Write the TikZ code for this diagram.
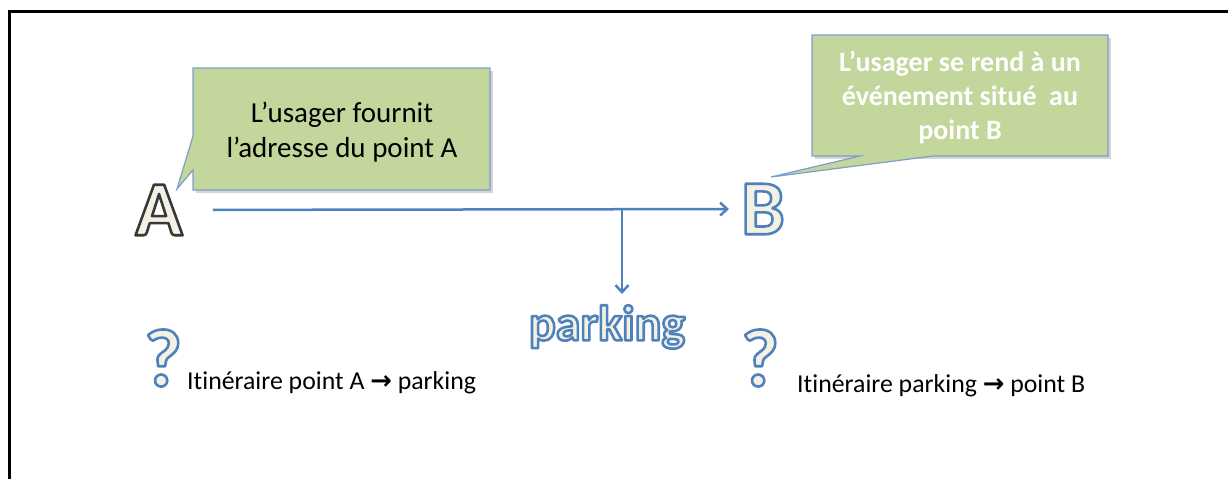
\documentclass[tikz,border=0pt]{standalone}
\usepackage{fontspec}
\setmainfont{Carlito}[Ligatures=NoCommon]
\newfontfamily\symfont{DejaVu Sans}
\usetikzlibrary{arrows.meta}
\definecolor{cgreen}{HTML}{C3D69B}
\definecolor{cborder}{HTML}{7BA0CD}
\definecolor{cblue}{HTML}{4F81BD}
\definecolor{cream}{HTML}{F3F1E4}
\definecolor{cshadow}{HTML}{D4D4D4}
% outlined text: #1 fill colour, #2 stroke rgb, #3 stroke width, #4 text
\newcommand\outl[4]{{\color{#1}\special{pdf:literal direct #2 RG #3 w 1 j 2 Tr}#4\special{pdf:literal direct 0 Tr}}}
\newcommand\bluel[1]{\outl{cream}{0.31 0.51 0.74}{2.6}{#1}}
\newcommand\greyl[1]{\outl{cream}{0.22 0.22 0.22}{2.6}{#1}}
\begin{document}
\begin{tikzpicture}[x=1pt,y=-1pt,
  callout/.style={fill=cgreen, draw=cborder, line width=1.2pt},
  calloutshadow/.style={fill=cshadow},
  flow/.style={draw=cblue, line width=2.5pt, -{Straight Barb[length=7pt,width=13pt,line width=2.5pt]}},
  frame/.style={draw=black, line width=3pt},
  bigletter/.style={inner sep=0pt, font=\fontsize{78}{90}\selectfont\bfseries},
  qmark/.style={inner sep=0pt, font=\fontsize{82}{90}\selectfont\bfseries},
  bubbletext/.style={align=center, inner sep=0pt, font=\fontsize{29}{35}\selectfont},
  routetext/.style={inner sep=0pt, anchor=base west, font=\fontsize{25.8}{30}\selectfont}
]
\useasboundingbox (0,0) rectangle (1228,479);
\fill[white] (0,0) rectangle (1228,479);
% frame
\draw[frame] (1228,11) -- (9,11) -- (9,479);
% callout shadows
\path[calloutshadow] (195.5,70.5) -- (492.5,70.5) -- (492.5,192.5) -- (195.5,192.5) -- cycle;
\path[calloutshadow] (814.5,37.5) -- (1110.5,37.5) -- (1110.5,158.5) -- (814.5,158.5) -- cycle;
% callouts
\path[callout] (193,68) -- (490,68) -- (490,190) -- (193,190) -- (193,170) -- (177,189) -- (193,136) -- cycle;
\path[callout] (812,35) -- (1108,35) -- (1108,156) -- (933,156) -- (771,177) -- (860,156) -- (812,156) -- cycle;
\node[bubbletext] (ta) at (342,132) {L’usager fournit\\l’adresse du point A};
\node[bubbletext, text=white, font=\fontsize{28}{34}\selectfont\bfseries] (tb) at (960,98) {L’usager se rend à un\\événement situé\ \ au\\point B};
% letters
\node[bigletter] (A) at (159,210) {\greyl{A}};
\node[bigletter] (B) at (763,209) {\bluel{B}};
\node[inner sep=0pt, font=\fontsize{50}{60}\selectfont\bfseries] (P) at (607,327) {\bluel{parking}};
% connectors
\coordinate (m) at (622,210);
\coordinate (ptip) at (622,294);
\draw[flow, shorten <=30pt, shorten >=12pt] (A) -- (B);
\draw[flow] (m) -- (ptip);
% question marks and routes
\node[qmark] (q1) at (163,358) {\bluel{?}};
\node[qmark] (q2) at (760,358) {\bluel{?}};
\node[routetext] (r1) at (187,389) {Itinéraire point A {\symfont\bfseries →} parking};
\node[routetext] (r2) at (797,392) {Itinéraire parking {\symfont\bfseries →} point B};
\end{tikzpicture}
\end{document}
